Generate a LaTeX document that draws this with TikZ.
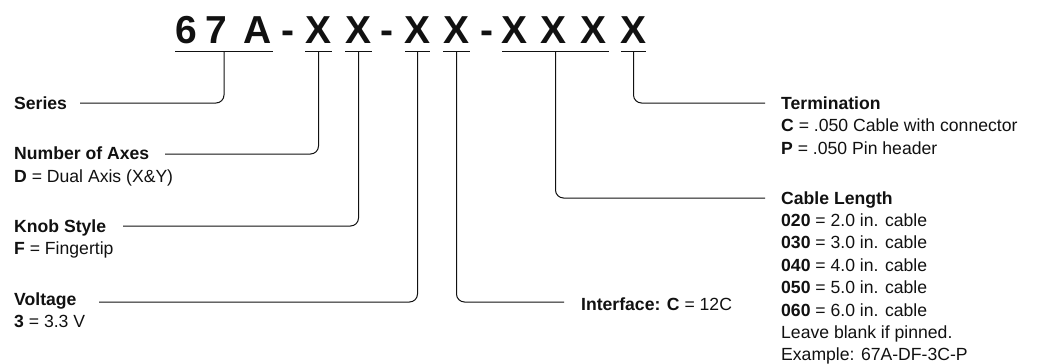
\documentclass[tikz,border=0pt]{standalone}
\usepackage{fontspec}
\setmainfont{Liberation Sans}
\definecolor{ink}{HTML}{111111}
\begin{document}
\begin{tikzpicture}[x=1pt,y=-1pt,
  code/.style={font=\fontsize{39}{39}\selectfont\bfseries, anchor=base, inner sep=0pt, text=ink},
  ul/.style={line width=1pt, draw=ink},
  conn/.style={line width=1pt, draw=ink, rounded corners=8pt},
  lab/.style={font=\fontsize{17.6}{21}\selectfont, anchor=base west, inner sep=0pt, text=ink}]
\useasboundingbox[fill=white] (0,0) rectangle (1042,364);
% part number characters
\node[code] (c6) at (186,43) {6};
\node[code] (c7) at (216.5,43) {7};
\node[code] (cA) at (257.5,43) {A};
\node[code] (d1) at (288,43) {-};
\node[code] (x1) at (318.5,43) {X};
\node[code] (x2) at (358.5,43) {X};
\node[code] (d2) at (386.5,43) {-};
\node[code] (x3) at (417.5,43) {X};
\node[code] (x4) at (456.5,43) {X};
\node[code] (d3) at (486.5,43) {-};
\node[code] (x5) at (514.5,43) {X};
\node[code] (x6) at (554,43) {X};
\node[code] (x7) at (594,43) {X};
\node[code] (x8) at (633.5,43) {X};
% underlines
\coordinate (ulY) at (0,51);
\draw[ul] (175,51) -- (273,51);
\draw[ul] (305,51) -- (332,51);
\draw[ul] (345,51) -- (372,51);
\draw[ul] (405,51) -- (430,51);
\draw[ul] (443,51) -- (470,51);
\draw[ul] (502,51) -- (609,51);
\draw[ul] (621,51) -- (646,51);
% connector start points
\coordinate (u1) at (224,51);
\coordinate (u2) at (x1 |- ulY);
\coordinate (u3) at (x2 |- ulY);
\coordinate (u4) at (x3 |- ulY);
\coordinate (u5) at (x4 |- ulY);
\coordinate (u6) at (555.5,51);
\coordinate (u7) at (x8 |- ulY);
% connector end points
\coordinate (e1) at (80,103);
\coordinate (e2) at (165,154);
\coordinate (e3) at (123,226);
\coordinate (e4) at (99,302);
\coordinate (e5) at (564,302);
\coordinate (e6) at (765,198);
\coordinate (e7) at (765,103);
% labels left
\node[lab] (series) at (14,109.5) {\bfseries Series};
\node[lab] (axes) at (14,159.5) {\bfseries Number of Axes};
\node[lab] (axesd) at (14,182) {\textbf{D} = Dual Axis (X\&Y)};
\node[lab] (knob) at (14,232) {\bfseries Knob Style};
\node[lab] (knobf) at (14,254.5) {\textbf{F} = Fingertip};
\node[lab] (volt) at (14,305) {\bfseries Voltage};
\node[lab] (voltv) at (14,327.5) {\textbf{3} = 3.3 V};
% interface
\node[lab] (iface) at (581,310) {\textbf{Interface: C} = 12C};
% labels right
\node[lab] (term) at (781,109) {\bfseries Termination};
\node[lab] (termc) at (781,131.5) {\textbf{C} = .050 Cable with connector};
\node[lab] (termp) at (781,154) {\textbf{P} = .050 Pin header};
\node[lab] (cable) at (781,204) {\bfseries Cable Length};
\node[lab] (c020) at (781,226.4) {\textbf{020} = 2.0 in. cable};
\node[lab] (c030) at (781,248.8) {\textbf{030} = 3.0 in. cable};
\node[lab] (c040) at (781,271.2) {\textbf{040} = 4.0 in. cable};
\node[lab] (c050) at (781,293.6) {\textbf{050} = 5.0 in. cable};
\node[lab] (c060) at (781,316) {\textbf{060} = 6.0 in. cable};
\node[lab] (blank) at (781,338.4) {Leave blank if pinned.};
\node[lab] (example) at (781,360.8) {Example: 67A-DF-3C-P};
% connectors
\draw[conn] (u1) |- (e1);
\draw[conn] (u2) |- (e2);
\draw[conn] (u3) |- (e3);
\draw[conn] (u4) |- (e4);
\draw[conn] (u5) |- (e5);
\draw[conn] (u6) |- (e6);
\draw[conn] (u7) |- (e7);
\end{tikzpicture}
\end{document}
